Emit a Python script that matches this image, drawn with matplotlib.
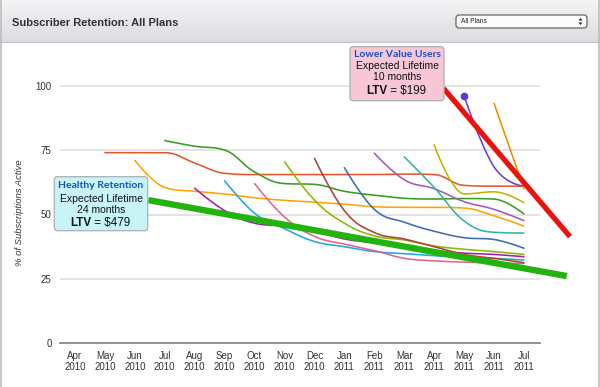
import numpy as np
import matplotlib
matplotlib.use("Agg")
import matplotlib.pyplot as plt
from matplotlib.patches import FancyBboxPatch, Rectangle, Polygon
from matplotlib.colors import LinearSegmentedColormap

# ---------------- data ----------------
month_labels = ["Apr\n2010", "May\n2010", "Jun\n2010", "Jul\n2010", "Aug\n2010",
                "Sep\n2010", "Oct\n2010", "Nov\n2010", "Dec\n2010", "Jan\n2011",
                "Feb\n2011", "Mar\n2011", "Apr\n2011", "May\n2011", "Jun\n2011",
                "Jul\n2011"]
y_ticks = [0, 25, 50, 75, 100]

# cohort start (index into month_labels) and % active each month until Jul 2011
cohort_start = [1, 2, 3, 4, 5, 6, 7, 8, 9, 10, 11, 12, 13, 14]
cohort_may10 = [74, 74, 74, 70, 66, 65.5, 65.5, 65.5, 65.5, 65.5, 65.7, 65.5, 61.3, 61, 61]
cohort_jun10 = [71, 60.5, 59, 58, 56.5, 55.5, 54.8, 54, 53, 52.8, 52.8, 52.5, 49.5, 45.5]
cohort_jul10 = [78.7, 76.5, 75, 66.5, 62, 61.7, 59, 57.5, 56.3, 56, 56.2, 56, 50.2]
cohort_aug10 = [60.2, 51.5, 46.6, 45.5, 43.5, 40.5, 39, 37.5, 36, 35, 34.5, 33.6]
cohort_sep10 = [63.1, 50.5, 44.5, 39.5, 37.5, 35.6, 34.8, 34, 33.4, 33, 32.3]
cohort_oct10 = [62, 49, 41.5, 38.5, 36, 33, 32, 31.5, 31.2, 31]
cohort_nov10 = [70.5, 55.6, 46.6, 41.7, 40.1, 37.8, 36.5, 35.6, 34.5]
cohort_dec10 = [71.8, 51.5, 43, 40.5, 37.5, 34.5, 33, 31.3]
cohort_jan11 = [68.2, 52, 47, 43.5, 41, 40.3, 36.9]
cohort_feb11 = [73.8, 63.5, 60, 55, 52, 47.6]
cohort_mar11 = [72.4, 60.5, 47.5, 43.1, 42.8]
cohort_apr11 = [77, 58, 58.8, 54.6]
cohort_may11 = [96, 68.5, 61]
cohort_jun11 = [93.2, 60]
cohort_values = [cohort_may10, cohort_jun10, cohort_jul10, cohort_aug10, cohort_sep10,
                 cohort_oct10, cohort_nov10, cohort_dec10, cohort_jan11, cohort_feb11,
                 cohort_mar11, cohort_apr11, cohort_may11, cohort_jun11]
cohort_colors = ["#e4572e", "#ffa500", "#3a9d23", "#a21fb3", "#22a7e0", "#e2648f",
                 "#8cba00", "#b0413e", "#3e6db0", "#a05db8", "#33b5a5", "#c4b200",
                 "#6a3ee0", "#f08a00"]

# trend lines (month index, % active)
healthy_months = [2.45, 16.43]
healthy_pct = [55.6, 26.1]
lower_months = [12.31, 16.54]
lower_pct = [99.0, 41.4]


def hc_spline(xs, ys, n=24):
    xs = list(map(float, xs)); ys = list(map(float, ys))
    N = len(xs)
    lc = [None] * N; rc = [None] * N
    for i in range(1, N - 1):
        px, py = xs[i], ys[i]
        lx, ly = xs[i - 1], ys[i - 1]
        nx, ny = xs[i + 1], ys[i + 1]
        lcx = (1.5 * px + lx) / 2.5; lcy = (1.5 * py + ly) / 2.5
        rcx = (1.5 * px + nx) / 2.5; rcy = (1.5 * py + ny) / 2.5
        if rcx != lcx:
            corr = ((rcy - lcy) * (rcx - px)) / (rcx - lcx) + py - rcy
            lcy += corr; rcy += corr
        if lcy > ly and lcy > py:
            lcy = max(ly, py); rcy = 2 * py - lcy
        elif lcy < ly and lcy < py:
            lcy = min(ly, py); rcy = 2 * py - lcy
        if rcy > ny and rcy > py:
            rcy = max(ny, py); lcy = 2 * py - rcy
        elif rcy < ny and rcy < py:
            rcy = min(ny, py); lcy = 2 * py - rcy
        lc[i] = (lcx, lcy); rc[i] = (rcx, rcy)
    ox, oy = [xs[0]], [ys[0]]
    t = np.linspace(0, 1, n)[1:]
    for i in range(1, N):
        p0 = (xs[i - 1], ys[i - 1]); p3 = (xs[i], ys[i])
        p1 = rc[i - 1] if rc[i - 1] else p0
        p2 = lc[i] if lc[i] else p3
        a = (1 - t) ** 3; b = 3 * (1 - t) ** 2 * t; c = 3 * (1 - t) * t ** 2; d = t ** 3
        ox.extend(a * p0[0] + b * p1[0] + c * p2[0] + d * p3[0])
        oy.extend(a * p0[1] + b * p1[1] + c * p2[1] + d * p3[1])
    return np.array(ox), np.array(oy)


W, H = 600, 387
fig = plt.figure(figsize=(6, 3.87), dpi=100)
fig.patch.set_facecolor("white")

PX_PER_UNIT = 2.576
Y0 = 343.3
YTOP = 105
ax = fig.add_axes([60 / W, (H - Y0) / H, 480 / W, YTOP * PX_PER_UNIT / H])
ax.set_xlim(-0.501, 15.536)
ax.set_ylim(0, YTOP)
ax.patch.set_alpha(0)
for s in ["top", "right", "left"]:
    ax.spines[s].set_visible(False)
ax.spines["bottom"].set_color("#8a8a8a")
ax.spines["bottom"].set_linewidth(1.3)
ax.set_yticks(y_ticks)
ax.set_yticklabels([str(v) for v in y_ticks])
ax.set_xticks(range(len(month_labels)))
ax.set_xticklabels(month_labels, linespacing=1.15)
ax.tick_params(axis="both", length=0, labelsize=7, labelcolor="#333333",
               labelfontfamily="Liberation Sans")
ax.tick_params(axis="y", pad=6)
ax.tick_params(axis="x", pad=5.5)
for v in y_ticks[1:]:
    ax.axhline(v, color="#e3e3e3", lw=1.4, zorder=0)

for start, vals, col in zip(cohort_start, cohort_values, cohort_colors):
    xs = np.arange(start, start + len(vals))
    sx, sy = hc_spline(xs, vals)
    ax.plot(sx, sy, color=col, lw=1.15, solid_capstyle="round", zorder=3)
# marker on the May 2011 cohort's first point
ax.plot([cohort_start[12]], [cohort_may11[0]], "o", color="#5a35d8", ms=4.5, zorder=4)

ax.plot(healthy_months, healthy_pct, color="#22b40c", lw=4.6, solid_capstyle="butt",
        clip_on=False, zorder=5)
ax.plot(lower_months, lower_pct, color="#e8140c", lw=3.8, solid_capstyle="butt",
        clip_on=False, zorder=5)

fig.text(20 / W, 1 - 213 / H, "% of Subscriptions Active", rotation=90, ha="center",
         va="center", fontsize=6.8, style="italic", color="#333333",
         family="Liberation Sans")

# ---------------- overlay (pixel coords) ----------------
ov = fig.add_axes([0, 0, 1, 1], zorder=10)
ov.set_xlim(0, W); ov.set_ylim(H, 0)
ov.axis("off"); ov.patch.set_alpha(0)

grad = np.linspace(0, 1, 64).reshape(-1, 1)
cmap = LinearSegmentedColormap.from_list("hdr", ["#f4f4f6", "#dcdce0"])
ov.imshow(grad, extent=[0, W, 42, 0], aspect="auto", cmap=cmap, zorder=0)
ov.set_xlim(0, W); ov.set_ylim(H, 0)
ov.plot([0, W], [42, 42], color="#c4c4c8", lw=0.8)
ov.plot([0.6, 0.6], [0, H], color="#bdbdbd", lw=1.2)
ov.plot([W - 0.6, W - 0.6], [0, H], color="#bdbdbd", lw=1.2)
ov.text(12.5, 22.5, "Subscriber Retention: All Plans", fontsize=8.0, fontweight="bold",
        color="#333333", va="center", ha="left", family="Liberation Sans")

# dropdown
ov.add_patch(FancyBboxPatch((456, 15), 131, 13, boxstyle="round,pad=0,rounding_size=3",
                            fc="#fbfbfb", ec="#555555", lw=0.8, zorder=2))
ov.text(461, 21.6, "All Plans", fontsize=4.8, color="#222222", va="center",
        family="Liberation Sans", zorder=3)
ov.add_patch(Polygon([[578.5, 20.5], [582.5, 20.5], [580.5, 18.0]], closed=True,
                     fc="#222222", ec="none", zorder=3))
ov.add_patch(Polygon([[578.5, 22.5], [582.5, 22.5], [580.5, 25.0]], closed=True,
                     fc="#222222", ec="none", zorder=3))

renderer = fig.canvas.get_renderer()


def ltv_line(cx, cy, amount):
    t1 = ov.text(0, cy, "LTV", fontsize=8.4, fontweight="bold", color="#111111",
                 va="center", ha="left", family="Liberation Sans", zorder=6)
    t2 = ov.text(0, cy, " = " + amount, fontsize=8.4, color="#111111",
                 va="center", ha="left", family="Liberation Sans", zorder=6)
    w1 = t1.get_window_extent(renderer).width
    w2 = t2.get_window_extent(renderer).width
    x0 = cx - (w1 + w2) / 2
    t1.set_x(x0); t2.set_x(x0 + w1)


def callout(x0, y0, x1, y1, fc, title, months_txt, amount, ys):
    ov.add_patch(FancyBboxPatch((x0, y0), x1 - x0, y1 - y0,
                                boxstyle="round,pad=0,rounding_size=3",
                                fc=fc, ec="#a9b0b2", lw=0.9, zorder=5))
    cx = (x0 + x1) / 2
    ov.text(cx, ys[0], title, fontsize=7.5, fontweight="bold", color="#1a4fc4",
            ha="center", va="center", family="Lato", zorder=6)
    ov.text(cx, ys[1], "Expected Lifetime", fontsize=7.5, color="#111111",
            ha="center", va="center", family="Liberation Sans", zorder=6)
    ov.text(cx, ys[2], months_txt, fontsize=7.5, color="#111111",
            ha="center", va="center", family="Liberation Sans", zorder=6)
    ltv_line(cx - 1, ys[3], amount)


callout(54.3, 176.7, 147.7, 230.7, "#c9f4f7", "Healthy Retention", "24 months", "$479",
        [186, 199.5, 210, 223])
callout(350, 46.7, 444, 100.7, "#f8c7d6", "Lower Value Users", "10 months", "$199",
        [54.5, 66.3, 77.5, 91])

fig.savefig("out.png", dpi=100, facecolor="white")
